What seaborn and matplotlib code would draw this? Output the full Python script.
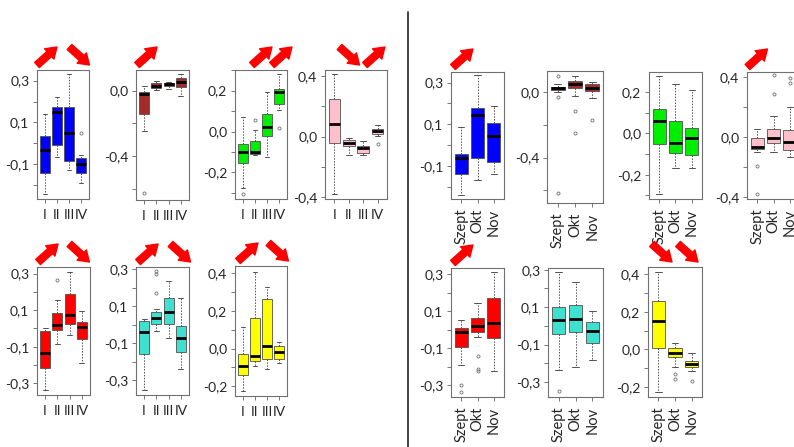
import numpy as np
import pandas as pd
import matplotlib
matplotlib.use("Agg")
import matplotlib.pyplot as plt
import seaborn as sns
from matplotlib.transforms import offset_copy
from matplotlib.lines import Line2D

season_labels = ["I", "II", "III", "IV"]
month_labels = ["Szept", "Okt", "Nov"]

# per box: (lower whisker, q1, median, q3, upper whisker), outliers separately
blue_season = [(-0.244, -0.142, -0.03, 0.034, 0.14), (-0.065, -0.01, 0.15, 0.175, 0.223),
               (-0.126, -0.084, 0.05, 0.172, 0.33), (-0.19, -0.142, -0.1, -0.07, -0.057)]
blue_season_out = [[], [], [], [0.047]]

brown_season = [(-0.248, -0.145, -0.022, -0.012, 0.03), (0.004, 0.018, 0.03, 0.044, 0.06),
                (0.008, 0.028, 0.042, 0.048, 0.053), (-0.036, 0.024, 0.053, 0.075, 0.099)]
brown_season_out = [[-0.626], [], [], []]

green_season = [(-0.276, -0.154, -0.098, -0.062, 0.073), (-0.114, -0.109, -0.098, -0.046, 0.008),
                (-0.125, -0.024, 0.02, 0.086, 0.195), (0.106, 0.133, 0.192, 0.207, 0.28)]
green_season_out = [[-0.304], [0.057], [], [0.016]]

pink_season = [(-0.38, -0.044, 0.084, 0.248, 0.415), (-0.12, -0.062, -0.04, -0.022, -0.007),
               (-0.126, -0.11, -0.077, -0.062, -0.033), (0.003, 0.015, 0.04, 0.053, 0.077)]
pink_season_out = [[], [], [], [-0.048]]

red_season = [(-0.336, -0.218, -0.136, -0.013, 0.005), (-0.087, -0.009, 0.02, 0.082, 0.155),
              (-0.036, 0.027, 0.076, 0.187, 0.307), (-0.191, -0.056, 0.009, 0.036, 0.095)]
red_season_out = [[], [0.267], [], []]

turq_season = [(-0.353, -0.159, -0.037, 0.021, 0.034), (-0.033, 0.007, 0.039, 0.07, 0.088),
               (-0.073, 0.003, 0.07, 0.145, 0.237), (-0.238, -0.146, -0.074, -0.008, 0.147)]
turq_season_out = [[], [0.172, 0.273, 0.291], [], []]

yellow_season = [(-0.225, -0.138, -0.094, -0.027, 0.112), (-0.092, -0.067, -0.041, 0.163, 0.408),
                 (-0.107, -0.053, 0.014, 0.261, 0.328), (-0.075, -0.053, -0.018, 0.014, 0.036)]
yellow_season_out = [[], [], [], []]

blue_month = [(-0.239, -0.14, -0.063, -0.043, 0.085), (-0.17, -0.063, 0.144, 0.176, 0.335),
              (-0.138, -0.083, 0.043, 0.107, 0.188)]
blue_month_out = [[], [], []]

brown_month = [(-0.002, 0.01, 0.024, 0.034, 0.05), (-0.022, 0.028, 0.048, 0.065, 0.101),
               (-0.036, 0.008, 0.024, 0.048, 0.059)]
brown_month_out = [[-0.618, -0.032, 0.099], [-0.248, -0.113], [-0.168]]

green_month = [(-0.293, -0.051, 0.059, 0.117, 0.277), (-0.168, -0.096, -0.048, 0.059, 0.24),
               (-0.165, -0.107, -0.024, 0.027, 0.208)]
green_month_out = [[], [], []]

pink_month = [(-0.101, -0.077, -0.066, -0.007, 0.053), (-0.095, -0.035, -0.007, 0.057, 0.141),
              (-0.128, -0.088, -0.029, 0.048, 0.2)]
pink_month_out = [[-0.38, -0.19], [0.29, 0.41], [0.36, 0.39]]

red_month = [(-0.19, -0.093, -0.012, 0.01, 0.052), (-0.043, -0.012, 0.019, 0.061, 0.146),
             (-0.224, -0.048, 0.037, 0.169, 0.309)]
red_month_out = [[-0.338, -0.302], [-0.224, -0.211, -0.144], []]

turq_month = [(-0.234, -0.046, 0.031, 0.1, 0.286), (-0.219, -0.031, 0.037, 0.112, 0.236),
              (-0.18, -0.09, -0.026, 0.022, 0.082)]
turq_month_out = [[-0.348], [], []]

yellow_month = [(-0.226, 0.009, 0.151, 0.258, 0.409), (-0.096, -0.043, -0.018, 0.005, 0.036),
                (-0.114, -0.096, -0.078, -0.062, -0.018)]
yellow_month_out = [[], [-0.155, -0.132], [-0.167]]

BLUE, BROWN, GREEN, PINK = "#0000FF", "#A52A2A", "#00EE00", "#FFC0CB"
RED, TURQ, YELLOW = "#FF0000", "#40E0D0", "#FFFF00"

# stats, outliers, labels, colour, pixel box (x0, x1, y0, y1), ylim, labelled ticks, arrows
panels = [
    (blue_season, blue_season_out, season_labels, BLUE, (37, 89, 70, 199), (-0.267, 0.351), [0.3, 0.1, -0.1], [(0.17, "up"), (2.87, "down")]),
    (brown_season, brown_season_out, season_labels, BROWN, (136, 189, 70, 200), (-0.667, 0.125), [0.0, -0.4], [(0.24, "up")]),
    (green_season, green_season_out, season_labels, GREEN, (235, 287, 70, 199), (-0.33, 0.301), [0.2, 0.0, -0.2], [(1.58, "up"), (3.24, "up")]),
    (pink_season, pink_season_out, season_labels, PINK, (325, 387, 70, 199), (-0.415, 0.442), [0.4, 0.0, -0.4], [(1.05, "down"), (2.82, "up")]),
    (blue_month, blue_month_out, month_labels, BLUE, (451, 504, 72, 199), (-0.26, 0.351), [0.3, 0.1, -0.1], [(0.11, "up")]),
    (brown_month, brown_month_out, month_labels, BROWN, (547, 603, 71, 203), (-0.677, 0.129), [0.0, -0.4], []),
    (green_month, green_month_out, month_labels, GREEN, (649, 702, 72, 199), (-0.317, 0.296), [0.2, 0.0, -0.2], []),
    (pink_month, pink_month_out, month_labels, PINK, (747, 800, 72, 199), (-0.41, 0.433), [0.4, 0.0, -0.4], [(0.02, "up")]),
    (red_season, red_season_out, season_labels, RED, (37, 90, 267, 395), (-0.364, 0.336), [0.3, 0.1, -0.1, -0.3], [(0.24, "up"), (2.80, "down")]),
    (turq_season, turq_season_out, season_labels, TURQ, (136, 189, 267, 395), (-0.38, 0.313), [0.3, 0.1, -0.1, -0.3], [(0.32, "up"), (2.97, "down")]),
    (yellow_season, yellow_season_out, season_labels, YELLOW, (235, 287, 266, 396), (-0.252, 0.438), [0.4, 0.2, 0.0, -0.2], [(0.42, "up"), (2.95, "down")]),
    (red_month, red_month_out, month_labels, RED, (451, 504, 268, 397), (-0.365, 0.333), [0.3, 0.1, -0.1, -0.3], [(0.11, "up")]),
    (turq_month, turq_month_out, month_labels, TURQ, (548, 603, 268, 397), (-0.38, 0.309), [0.3, 0.1, -0.1, -0.3], []),
    (yellow_month, yellow_month_out, month_labels, YELLOW, (648, 702, 267, 397), (-0.253, 0.438), [0.4, 0.2, 0.0, -0.2], [(0.22, "down"), (1.78, "down")]),
]


def box_values(stat, outs):
    # builds 4k+1 values whose quartiles / whiskers match the read stats exactly
    lo, q1, med, q3, hi = stat
    low_out = sorted(v for v in outs if v < q1)
    high_out = sorted(v for v in outs if v > q3)
    k = max(len(low_out) + 1, len(high_out) + 1)
    vals = low_out + [lo] + [q1] * (k - len(low_out) - 1)
    vals += [q1] + [med] * (k - 1)
    vals += [med] + [q3] * (k - 1)
    vals += [q3] * (k - len(high_out)) + [hi] + high_out
    return vals


def fmt(v):
    if abs(v) < 1e-9:
        v = 0.0
    return f"{v:.1f}".replace(".", ",")


sns.set_theme(style="white")
plt.rcParams["font.family"] = ["Lato", "DejaVu Sans"]

W, H = 794, 447
fig = plt.figure(figsize=(W / 100, H / 100), dpi=100)
fig.patch.set_facecolor("white")

for stats, outs, labels, color, (x0, x1, y0, y1), ylim, ylab, arrows in panels:
    ax = fig.add_axes([x0 / W, 1 - y1 / H, (x1 - x0) / W, (y1 - y0) / H])
    rows = []
    for lab, st, ou in zip(labels, stats, outs):
        rows += [(lab, v) for v in box_values(st, ou)]
    df = pd.DataFrame(rows, columns=["grp", "val"])
    sns.boxplot(data=df, x="grp", y="val", order=labels, color=color, saturation=1,
                width=0.8, whis=1.5, linecolor="#505050", linewidth=0.6, fliersize=2.2, ax=ax,
                medianprops=dict(color="black", linewidth=2.0),
                whiskerprops=dict(color="#505050", linestyle=(0, (1.5, 1.5)), linewidth=0.7),
                capprops=dict(color="#505050", linewidth=0.7),
                flierprops=dict(marker="o", markerfacecolor="none",
                                markeredgecolor="#707070", markeredgewidth=0.6))
    n = len(labels)
    ax.set_xlim(-0.5 - 0.04 * n, n - 0.5 + 0.04 * n)
    ax.set_ylim(*ylim)
    step = abs(ylab[0] - ylab[1]) / 2
    ticks = np.round(np.arange(np.ceil(ylim[0] / step) * step, ylim[1], step), 3)
    ax.set_yticks(ticks)
    ax.set_yticklabels([fmt(t) if np.any(np.isclose(t, ylab)) else "" for t in ticks], fontsize=10)
    ax.set_xticks(range(n))
    if n == 3:
        ax.set_xticklabels(labels, rotation=90, fontsize=10.5)
    else:
        ax.set_xticklabels(labels, fontsize=10)
    ax.set_xlabel("")
    ax.set_ylabel("")
    ax.tick_params(axis="both", direction="out", length=3, width=0.6, color="#606060",
                   left=True, bottom=True, pad=2.5)
    ax.tick_params(axis="x", pad=4)
    for sp in ax.spines.values():
        sp.set_color("#707070")
        sp.set_linewidth(0.8)

    # red trend arrows above the panel
    for xd, direction in arrows:
        lowpt = offset_copy(ax.get_xaxis_transform(), fig=fig, x=-10 if direction == "up" else 10, y=5, units="dots")
        highpt = offset_copy(ax.get_xaxis_transform(), fig=fig, x=10 if direction == "up" else -10, y=23, units="dots")
        head, tail = (highpt, lowpt) if direction == "up" else (lowpt, highpt)
        ax.annotate("", xy=(xd, 1), xycoords=head, xytext=(xd, 1), textcoords=tail,
                    arrowprops=dict(arrowstyle="simple,head_length=0.75,head_width=1.0,tail_width=0.5",
                                    color="#FF0000", shrinkA=0, shrinkB=0, mutation_scale=10))

# divider between the two halves
fig.add_artist(Line2D([408 / W, 408 / W], [0, 1 - 12 / H], color="#333333", linewidth=1.3))

fig.savefig("out.png", dpi=100)
